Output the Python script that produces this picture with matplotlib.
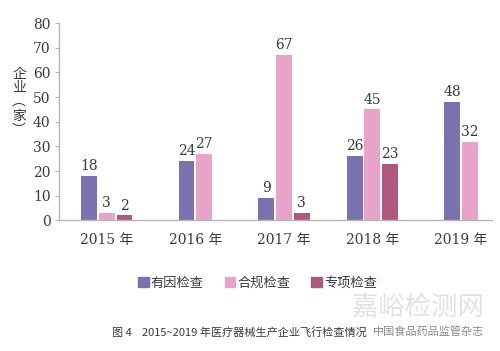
"""Flight inspections of medical device manufacturers, 2015-2019."""

import matplotlib

matplotlib.use("Agg")
import matplotlib.pyplot as plt
import numpy as np
from matplotlib.patches import Patch

YEARS = ["2015 年", "2016 年", "2017 年", "2018 年", "2019 年"]
SERIES_NAMES = ["有因检查", "合规检查", "专项检查"]
CAUSE = [18, 24, 9, 26, 48]
COMPLIANCE = [3, 27, 67, 45, 32]
SPECIAL = [2, None, 3, 23, None]
COLORS = ["#7a72ae", "#e8a3c8", "#b0587f"]

CJK = ["Noto Sans CJK SC", "DejaVu Sans"]
SERIF = ["DejaVu Serif", "Noto Sans CJK SC"]
TEXT = "#3a3a3a"
GRID = "#b5b5b5"

plt.rcParams["font.family"] = CJK

fig = plt.figure(figsize=(5.0, 3.51), dpi=100)
ax = fig.add_axes([0.118, 0.372, 0.866, 0.562])

series = [CAUSE, COMPLIANCE, SPECIAL]
width = 0.18
step = 0.2
for i in range(len(YEARS)):
    present = [k for k, s in enumerate(series) if s[i] is not None]
    offsets = (np.arange(len(present)) - (len(present) - 1) / 2) * step
    for off, k in zip(offsets, present):
        value = series[k][i]
        ax.bar(i + off, value, width=width, color=COLORS[k], linewidth=0)
        ax.text(i + off, value + 1.2, str(value), ha="center", va="bottom",
                fontsize=10, color=TEXT, family=SERIF)

ax.set_xlim(-0.54, 4.35)
ax.set_ylim(0, 80)
ax.set_yticks(range(0, 81, 10))
ax.set_xticks(range(len(YEARS)))
ax.set_xticklabels(YEARS, family=SERIF, fontsize=10, color=TEXT)
ax.tick_params(axis="x", length=0, pad=9)
ax.tick_params(axis="y", length=3, color=GRID, labelsize=10, labelcolor=TEXT, pad=3)
for label in ax.get_yticklabels():
    label.set_family(SERIF)

for side in ("top", "right"):
    ax.spines[side].set_visible(False)
for side in ("left", "bottom"):
    ax.spines[side].set_color(GRID)
    ax.spines[side].set_linewidth(1.0)

fig.text(0.038, 0.71, "企\n业\n︵\n家\n︶", ha="center", va="center",
         fontsize=10, color=TEXT, linespacing=1.0)

handles = [Patch(color=c) for c in COLORS]
fig.legend(handles, SERIES_NAMES, loc="center", bbox_to_anchor=(0.515, 0.193),
           ncol=3, frameon=False, fontsize=9.5, handlelength=0.8, handleheight=0.8,
           handletextpad=0.15, columnspacing=1.6, labelcolor=TEXT)

fig.text(0.835, 0.125, "嘉峪检测网", ha="center", va="center",
         fontsize=19, color="#e2e2e2", zorder=0)
fig.text(0.225, 0.054, "图 4    2015~2019 年医疗器械生产企业飞行检查情况",
         ha="left", va="center", fontsize=8, color=TEXT)
fig.text(0.745, 0.054, "中国食品药品监管杂志", ha="left", va="center",
         fontsize=8, color="#8a8a8a")

fig.savefig("out.png", dpi=100)
